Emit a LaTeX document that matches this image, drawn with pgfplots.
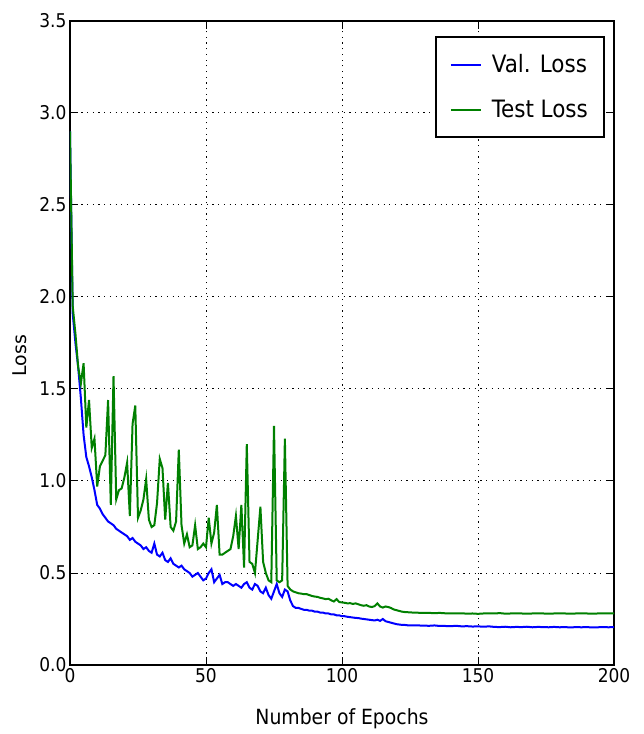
\documentclass[border=0pt]{standalone}
\usepackage{fontspec}
\setmainfont{DejaVu Sans Condensed}
\newfontfamily\ylabfont{DejaVu Sans}
\usepackage{pgfplots}
\pgfplotsset{compat=1.18}

\definecolor{mplblue}{rgb}{0,0,1}
\definecolor{mplgreen}{rgb}{0,0.5,0}

\begin{document}
\begin{tikzpicture}
\useasboundingbox (-70bp,-69bp) rectangle (574bp,665bp);
\begin{axis}[
    scale only axis,
    width=544bp, height=644bp,
    xmin=0, xmax=200, ymin=0, ymax=3.5,
    xtick={0,50,...,200},
    ytick={0,0.5,...,3.5},
    yticklabel style={/pgf/number format/fixed, /pgf/number format/fixed zerofill, /pgf/number format/precision=1},
    /pgf/number format/assume math mode=true,
    ticklabel style={font=\fontsize{19}{23}\selectfont},
    tick align=inside,
    major tick length=8bp,
    tick style={black, line width=1bp},
    axis line style={black, line width=2bp},
    grid=major,
    grid style={black, line width=1bp, dash pattern=on 1.2bp off 4.5bp},
    xlabel={Number of Epochs},
    xlabel style={font=\fontsize{21}{25}\selectfont, at={(axis description cs:0.5,-0.083)}, anchor=center},
    ylabel={\ylabfont Loss},
    ylabel style={font=\fontsize{19}{23}\selectfont, at={(axis description cs:-0.092,0.48)}, anchor=center},
    legend style={at={(0.983,0.977)}, anchor=north east, draw=black, line width=1.8bp,
        font=\fontsize{24}{29}\selectfont, inner xsep=14bp, inner ysep=16bp,
        row sep=22bp, column sep=8bp},
    legend cell align=left,
    legend image code/.code={\draw[line width=2bp,#1] (0bp,0bp) -- (30bp,0bp);},
]
% Val. Loss
\addplot[color=mplblue, line width=2bp] coordinates {
(0,2.90)(1,1.91)(2,1.75)(3,1.62)(4,1.45)(5,1.25)(6,1.13)(7,1.08)(8,1.02)(9,0.95)
(10,0.87)(11,0.85)(12,0.82)(13,0.80)(14,0.78)(15,0.77)(16,0.76)(17,0.74)(18,0.73)(19,0.72)
(20,0.71)(21,0.70)(22,0.68)(23,0.69)(24,0.67)(25,0.66)(26,0.65)(27,0.63)(28,0.64)(29,0.62)
(30,0.61)(31,0.66)(32,0.60)(33,0.59)(34,0.61)(35,0.57)(36,0.56)(37,0.58)(38,0.55)(39,0.54)
(40,0.53)(41,0.54)(42,0.52)(43,0.51)(44,0.50)(45,0.48)(46,0.49)(47,0.50)(48,0.48)(49,0.46)
(50,0.47)(51,0.50)(52,0.52)(53,0.45)(54,0.47)(55,0.49)(56,0.44)(57,0.45)(58,0.45)(59,0.44)
(60,0.43)(61,0.44)(62,0.43)(63,0.42)(64,0.44)(65,0.45)(66,0.42)(67,0.41)(68,0.44)(69,0.43)
(70,0.40)(71,0.39)(72,0.42)(73,0.38)(74,0.36)(75,0.40)(76,0.44)(77,0.39)(78,0.37)(79,0.41)
(80,0.40)(81,0.35)(82,0.32)(83,0.31)(84,0.31)(85,0.305)(86,0.30)(87,0.30)(88,0.295)(89,0.295)
(90,0.29)(91,0.29)(92,0.285)(93,0.285)(94,0.28)(95,0.28)(96,0.275)(97,0.275)(98,0.27)(99,0.27)
(100,0.265)(101,0.265)(102,0.262)(103,0.26)(104,0.258)(105,0.256)(106,0.255)(107,0.252)(108,0.25)(109,0.248)
(110,0.246)(111,0.244)(112,0.242)(113,0.246)(114,0.24)(115,0.25)(116,0.238)(117,0.234)(118,0.23)(119,0.226)
(120,0.222)(121,0.22)(122,0.218)(123,0.218)(124,0.216)(125,0.216)(126,0.215)(128,0.215)(130,0.214)
(132,0.213)(134,0.215)(136,0.212)(138,0.212)(140,0.211)(142,0.213)(144,0.21)(146,0.211)(148,0.209)
(150,0.21)(152,0.208)(154,0.21)(156,0.207)(158,0.206)(160,0.208)(162,0.205)(164,0.207)(166,0.206)
(168,0.208)(170,0.205)(172,0.207)(174,0.206)(176,0.205)(178,0.207)(180,0.205)(182,0.206)(184,0.204)
(186,0.206)(188,0.205)(190,0.206)(192,0.204)(194,0.205)(196,0.206)(198,0.205)(200,0.206)
};
\addlegendentry{Val. Loss}
% Test Loss
\addplot[color=mplgreen, line width=2bp] coordinates {
(0,2.90)(1,1.95)(2,1.80)(3,1.62)(4,1.53)(5,1.64)(6,1.29)(7,1.44)(8,1.18)(9,1.23)
(10,0.97)(11,1.08)(12,1.11)(13,1.14)(14,1.44)(15,0.87)(16,1.57)(17,0.90)(18,0.95)(19,0.96)
(20,1.02)(21,1.10)(22,0.81)(23,1.31)(24,1.41)(25,0.80)(26,0.84)(27,0.90)(28,1.01)(29,0.79)
(30,0.75)(31,0.76)(32,0.88)(33,1.12)(34,1.07)(35,0.79)(36,0.99)(37,0.75)(38,0.73)(39,0.78)
(40,1.17)(41,0.76)(42,0.66)(43,0.71)(44,0.64)(45,0.65)(46,0.76)(47,0.63)(48,0.64)(49,0.66)
(50,0.64)(51,0.80)(52,0.66)(53,0.72)(54,0.87)(55,0.60)(56,0.60)(57,0.61)(58,0.62)(59,0.63)
(60,0.70)(61,0.81)(62,0.63)(63,0.87)(64,0.53)(65,1.20)(66,0.56)(67,0.55)(68,0.50)(69,0.68)
(70,0.86)(71,0.56)(72,0.50)(73,0.46)(74,0.45)(75,1.30)(76,0.46)(77,0.45)(78,0.46)(79,1.23)
(80,0.43)(81,0.41)(82,0.40)(83,0.395)(84,0.39)(85,0.388)(86,0.385)(87,0.385)(88,0.38)(89,0.375)
(90,0.372)(91,0.37)(92,0.365)(93,0.362)(94,0.358)(95,0.36)(96,0.352)(97,0.345)(98,0.358)(99,0.342)
(100,0.34)(101,0.338)(102,0.335)(103,0.336)(104,0.332)(105,0.335)(106,0.33)(107,0.325)(108,0.322)(109,0.325)
(110,0.318)(111,0.315)(112,0.32)(113,0.335)(114,0.318)(115,0.312)(116,0.318)(117,0.315)(118,0.31)(119,0.302)
(120,0.298)(121,0.294)(122,0.29)(123,0.288)(124,0.287)(125,0.286)(126,0.285)(128,0.284)(130,0.283)
(132,0.283)(134,0.282)(136,0.283)(138,0.281)(140,0.281)(142,0.28)(144,0.281)(146,0.279)(148,0.28)
(150,0.278)(152,0.28)(154,0.281)(156,0.28)(158,0.282)(160,0.279)(162,0.28)(164,0.281)(166,0.28)
(168,0.279)(170,0.28)(172,0.281)(174,0.28)(176,0.279)(178,0.28)(180,0.281)(182,0.28)(184,0.279)
(186,0.28)(188,0.281)(190,0.28)(192,0.279)(194,0.28)(196,0.281)(198,0.28)(200,0.28)
};
\addlegendentry{Test Loss}
\end{axis}
\end{tikzpicture}
\end{document}
